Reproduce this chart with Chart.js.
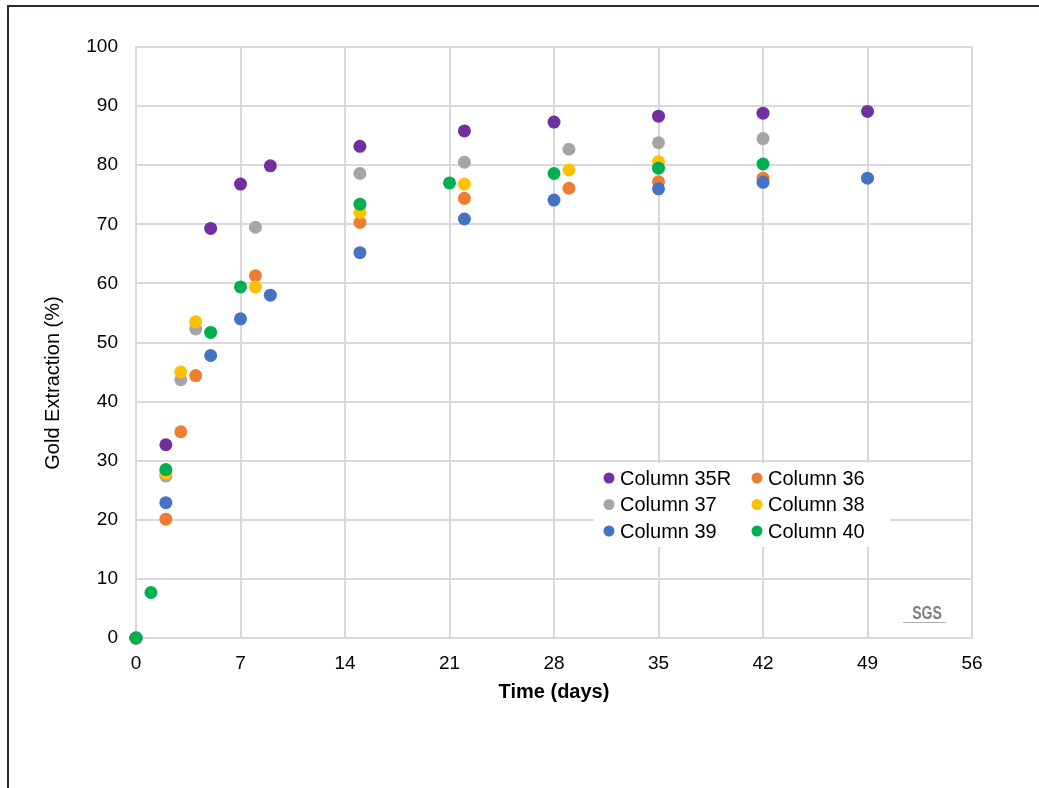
<!DOCTYPE html>
<html lang="en">
  <head>
    <meta charset="UTF-8" />
    <title>Gold Extraction</title>
    <script src="https://cdn.jsdelivr.net/npm/chart.js"></script>
    <style>
      * {
        margin: 0;
        padding: 0;
        box-sizing: border-box;
      }

      body {
        width: 1039px;
        height: 788px;
        background: #fff;
        overflow: hidden;
        position: relative;
      }

      .frame {
        position: absolute;
        left: 7px;
        top: 5px;
        width: 1100px;
        height: 900px;
        border-top: 2px solid #272c33;
        border-left: 2px solid #272c33;
      }

      canvas {
        position: absolute;
        left: 0;
        top: 0;
      }
    </style>
  </head>
  <body>
    <div class="frame"></div>
    <canvas id="goldChart" width="1039" height="788"></canvas>

    <script>
      // series: day / extraction %
      const seriesNames = ["Column 35R", "Column 36", "Column 37", "Column 38", "Column 39", "Column 40"];
      const seriesColors = ["#7030a0", "#ed7d31", "#a5a5a5", "#ffc000", "#4472c4", "#00b050"];

      const days35R = [0, 2, 5, 7, 9, 15, 22, 28, 35, 42, 49];
      const gold35R = [0, 32.7, 69.3, 76.8, 79.9, 83.2, 85.8, 87.3, 88.3, 88.8, 89.1];

      const days36 = [0, 2, 3, 4, 8, 15, 22, 29, 35, 42];
      const gold36 = [0, 20.1, 34.9, 44.4, 61.3, 70.3, 74.4, 76.1, 77.2, 77.8];

      const days37 = [0, 2, 3, 4, 8, 15, 22, 29, 35, 42];
      const gold37 = [0, 27.4, 43.7, 52.3, 69.5, 78.6, 80.5, 82.7, 83.8, 84.5];

      const days38 = [0, 2, 3, 4, 8, 15, 22, 29, 35];
      const gold38 = [0, 27.9, 45.0, 53.5, 59.4, 72.0, 76.8, 79.2, 80.6];

      const days39 = [0, 2, 5, 7, 9, 15, 22, 28, 35, 42, 49];
      const gold39 = [0, 22.9, 47.8, 54.0, 58.0, 65.2, 70.9, 74.1, 76.0, 77.1, 77.8];

      const days40 = [0, 1, 2, 5, 7, 15, 21, 28, 35, 42];
      const gold40 = [0, 7.7, 28.5, 51.7, 59.4, 73.4, 77.0, 78.6, 79.5, 80.2];

      const allDays = [days35R, days36, days37, days38, days39, days40];
      const allGold = [gold35R, gold36, gold37, gold38, gold39, gold40];

      const FONT = '"Liberation Sans", Arial, sans-serif';
      const GRID = "#d9d9d9";

      const datasets = seriesNames.map((name, i) => ({
        label: name,
        data: allDays[i].map((d, k) => ({ x: d, y: allGold[i][k] })),
        backgroundColor: seriesColors[i],
        borderWidth: 0,
        pointRadius: 6.5,
        pointHoverRadius: 6.5,
        clip: false,
        // later series sit on top, like the original
        order: seriesNames.length - i,
      }));

      // legend box inside the plot, y title and SGS mark
      const extras = {
        id: "extras",
        afterDatasetsDraw(chart) {
          const ctx = chart.ctx;
          ctx.save();

          // legend
          ctx.fillStyle = "#fff";
          ctx.fillRect(594, 463, 296, 84);
          ctx.font = "20px " + FONT;
          ctx.textBaseline = "middle";
          ctx.textAlign = "left";
          chart.data.datasets.forEach((ds, i) => {
            const col = i % 2;
            const row = Math.floor(i / 2);
            const mx = col === 0 ? 609 : 757;
            const my = 478 + row * 26.5;
            ctx.fillStyle = ds.backgroundColor;
            ctx.beginPath();
            ctx.arc(mx, my, 5.5, 0, Math.PI * 2);
            ctx.fill();
            ctx.fillStyle = "#000";
            ctx.fillText(ds.label, mx + 11, my + 1);
          });

          // y axis title
          ctx.translate(53, 383);
          ctx.rotate(-Math.PI / 2);
          ctx.textAlign = "center";
          ctx.fillStyle = "#000";
          ctx.font = "20px " + FONT;
          ctx.fillText("Gold Extraction (%)", 0, 0);
          ctx.restore();

          // SGS logo
          ctx.save();
          ctx.strokeStyle = "#b0b0b0";
          ctx.lineWidth = 1;
          ctx.beginPath();
          ctx.moveTo(903, 622.5);
          ctx.lineTo(946, 622.5);
          ctx.stroke();
          ctx.translate(927, 614);
          ctx.scale(0.78, 1);
          ctx.fillStyle = "#7f7f7f";
          ctx.font = "bold 18px " + FONT;
          ctx.textAlign = "center";
          ctx.textBaseline = "middle";
          ctx.fillText("SGS", 0, 0);
          ctx.restore();
        },
      };

      new Chart(document.getElementById("goldChart"), {
        type: "scatter",
        data: { datasets: datasets },
        plugins: [extras],
        options: {
          responsive: false,
          animation: false,
          layout: {
            padding: { top: 47, right: 67, left: 0, bottom: 0 },
          },
          plugins: {
            legend: { display: false },
            tooltip: { enabled: false },
          },
          scales: {
            x: {
              type: "linear",
              min: 0,
              max: 56,
              afterFit: (s) => {
                s.height = 150;
              },
              ticks: {
                stepSize: 7,
                padding: 14,
                color: "#000",
                font: { family: FONT, size: 19 },
              },
              grid: { color: GRID, lineWidth: 2, drawTicks: false },
              border: { color: GRID, width: 2 },
              title: {
                display: true,
                text: "Time (days)",
                color: "#000",
                font: { family: FONT, size: 20, weight: "bold" },
                padding: { top: 0, bottom: 84 },
              },
            },
            y: {
              min: 0,
              max: 100,
              afterFit: (s) => {
                s.width = 136;
              },
              ticks: {
                stepSize: 10,
                padding: 18,
                color: "#000",
                font: { family: FONT, size: 19 },
              },
              grid: { color: GRID, lineWidth: 2, drawTicks: false },
              border: { color: GRID, width: 2 },
            },
          },
        },
      });
    </script>
  </body>
</html>
